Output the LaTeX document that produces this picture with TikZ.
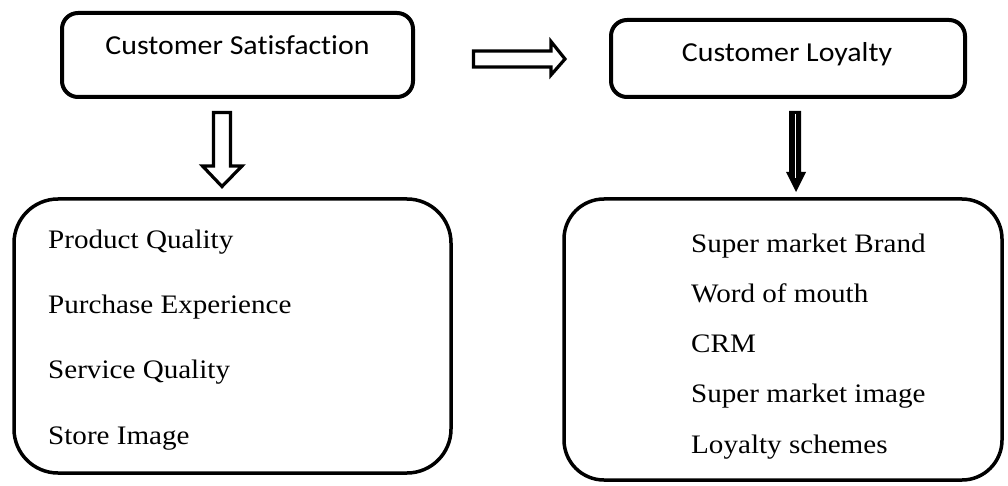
\documentclass[tikz,border=0pt]{standalone}
\usepackage{fontspec}
\setmainfont{Liberation Serif}[FakeStretch=1.09]
\newfontfamily\hdfont{Carlito}[FakeStretch=1.09, Ligatures=NoCommon]
\begin{document}
\begin{tikzpicture}[x=1pt,y=-1pt,
  hbox/.style={draw, line width=4pt, rounded corners=16pt, inner sep=0pt},
  lbox/.style={draw, line width=3.5pt, inner sep=0pt},
  htext/.style={anchor=base, inner sep=0pt, font=\hdfont\fontsize{27.4}{33}\selectfont},
  ltext/.style={anchor=base west, inner sep=0pt, font=\fontsize{26.7}{32}\selectfont},
  hollow/.style={draw, line width=3.2pt, fill=white, line join=miter},
]
\useasboundingbox (0,0) rectangle (1008,486);
% header boxes
\node[hbox, minimum width=351pt, minimum height=84pt] (cs) at (237.5,55) {};
\node[hbox, minimum width=354pt, minimum height=77pt] (cl) at (788,58.5) {};
\node[htext] (cst) at (237.5,55) {Customer Satisfaction};
\node[htext] (clt) at (787,62) {Customer Loyalty};
% lower boxes
\node[lbox, rounded corners=44pt, minimum width=437pt, minimum height=274pt] (sat) at (232.5,336) {};
\node[lbox, rounded corners=40pt, minimum width=438pt, minimum height=281pt] (loy) at (783,339.5) {};
% left list
\node[ltext] (s1) at (48,248) {Product Quality};
\node[ltext] (s2) at (48,313.3) {Purchase Experience};
\node[ltext] (s3) at (48,378.6) {Service Quality};
\node[ltext] (s4) at (48,444) {Store Image};
% right list
\node[ltext] (l1) at (691,252) {Super market Brand};
\node[ltext] (l2) at (691,302.3) {Word of mouth};
\node[ltext] (l3) at (691,352.6) {CRM};
\node[ltext] (l4) at (691,402.9) {Super market image};
\node[ltext] (l5) at (691,453.2) {Loyalty schemes};
% hollow right arrow
\draw[hollow] (473.5,51) -- (551,51) -- (551,41.5) -- (565,59) -- (551,75) -- (551,67) -- (473.5,67) -- cycle;
% hollow down arrow (left)
\draw[hollow] (213.5,112.5) -- (230.5,112.5) -- (230.5,166) -- (242,166) -- (222,186.5) -- (202.5,166) -- (213.5,166) -- cycle;
% black double-line down arrow (right)
\fill (789,111) -- (801,111) -- (801,172) -- (806,172) -- (796,192) -- (786,172) -- (789,172) -- cycle;
\draw[white, line width=0.7pt] (795.5,114) -- (795.5,178);
\end{tikzpicture}
\end{document}
